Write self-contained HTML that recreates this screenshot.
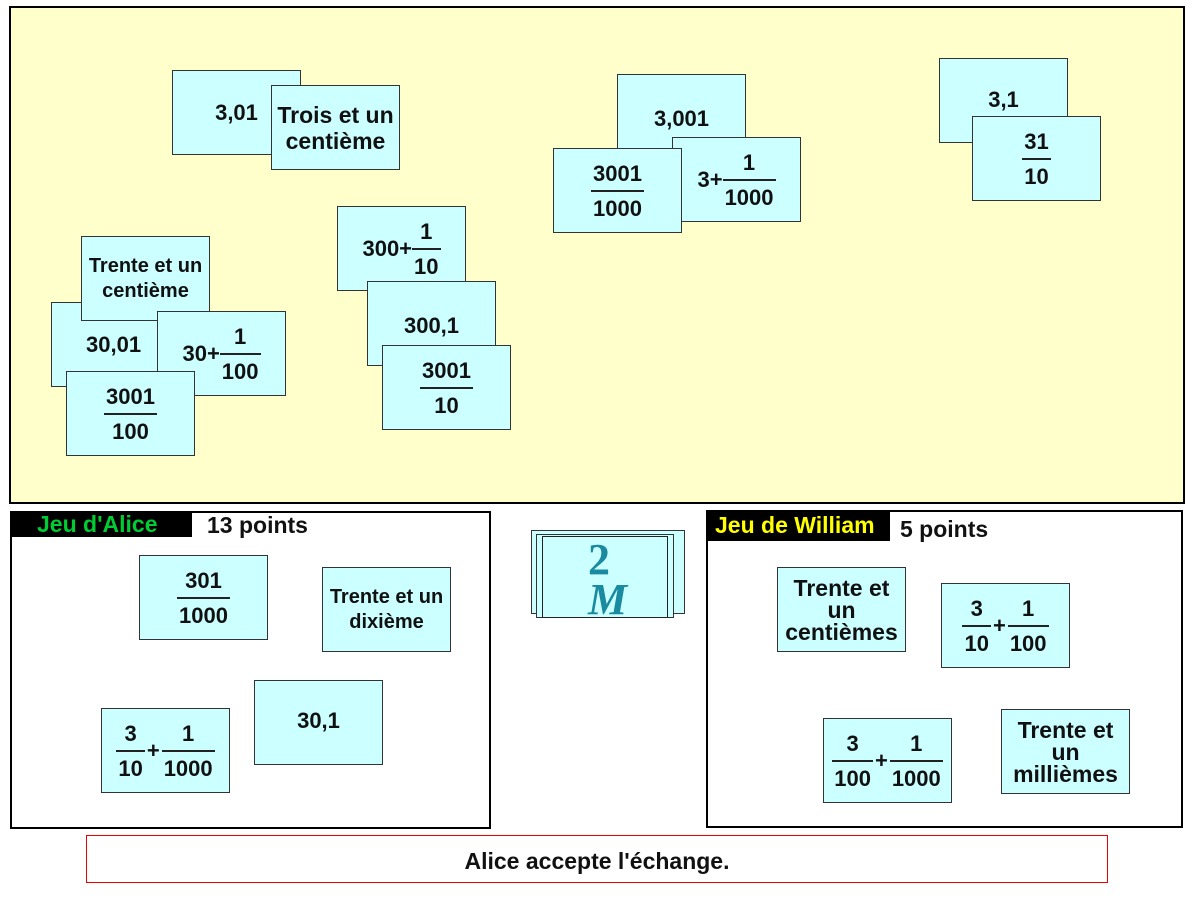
<!DOCTYPE html>
<html><head><meta charset="utf-8"><style>
*{box-sizing:border-box;margin:0;padding:0}
body{width:1200px;height:900px;background:#fff;position:relative;font-family:"Liberation Sans",sans-serif;font-weight:bold;color:#111;overflow:hidden}
.a{position:absolute}
.c{position:absolute;width:129px;height:85px;background:#ccffff;border:1.5px solid #333;display:flex;align-items:center;justify-content:center;font-size:22px;line-height:25px;text-align:center;white-space:nowrap}
.f{display:inline-flex;flex-direction:column;align-items:stretch;vertical-align:middle;line-height:25px;text-align:center}
.f span:first-child{border-bottom:2px solid #222;padding:0 2px 4px}
.f span:last-child{padding:4px 2px 0}
.p{display:inline-block;vertical-align:middle;margin:0 2px}
.s{font-size:20px;line-height:25px}
.w{font-size:23px;line-height:22px}
</style></head><body>
<div class="a" style="left:9px;top:6px;width:1176px;height:498px;background:#ffffcc;border:2px solid #000"></div>

<div class="c" style="left:172px;top:70px;align-items:flex-start;padding-top:29px">3,01</div>
<div class="c" style="left:271px;top:85px;font-size:23px;line-height:26px">Trois et un<br>centième</div>

<div class="c" style="left:617px;top:74px;align-items:flex-start;padding-top:31px">3,001</div>
<div class="c" style="left:672px;top:137px">3+<span class="f"><span>1</span><span>1000</span></span></div>
<div class="c" style="left:553px;top:148px"><span class="f"><span>3001</span><span>1000</span></span></div>

<div class="c" style="left:939px;top:58px;align-items:flex-start;padding-top:28px">3,1</div>
<div class="c" style="left:972px;top:116px"><span class="f"><span>31</span><span>10</span></span></div>

<div class="c" style="left:51px;top:302px;justify-content:flex-start;padding-left:34px">30,01</div>
<div class="c s" style="left:81px;top:236px">Trente et un<br>centième</div>
<div class="c" style="left:157px;top:311px">30+<span class="f"><span>1</span><span>100</span></span></div>
<div class="c" style="left:66px;top:371px"><span class="f"><span>3001</span><span>100</span></span></div>

<div class="c" style="left:337px;top:206px">300+<span class="f"><span>1</span><span>10</span></span></div>
<div class="c" style="left:367px;top:281px;align-items:flex-start;padding-top:31px">300,1</div>
<div class="c" style="left:382px;top:345px"><span class="f"><span>3001</span><span>10</span></span></div>

<!-- Alice -->
<div class="a" style="left:10px;top:511px;width:481px;height:318px;border:2px solid #000"></div>
<div class="a" style="left:10px;top:511px;width:182px;height:26px;background:#000;color:#00cc33;font-size:23px;line-height:26px;padding-left:27px">Jeu d'Alice</div>
<div class="a" style="left:207px;top:512px;font-size:23px;line-height:26px">13 points</div>
<div class="c" style="left:139px;top:555px"><span class="f"><span>301</span><span>1000</span></span></div>
<div class="c s" style="left:322px;top:567px">Trente et un<br>dixième</div>
<div class="c" style="left:101px;top:708px"><span class="f"><span>3</span><span>10</span></span><span class="p">+</span><span class="f"><span>1</span><span>1000</span></span></div>
<div class="c" style="left:254px;top:680px;align-items:flex-start;padding-top:27px">30,1</div>

<!-- deck -->
<div class="a" style="left:531px;top:530px;width:154px;height:84px;background:#ccffff;border:1.5px solid #333"></div>
<div class="a" style="left:536px;top:534px;width:138px;height:84px;background:#ccffff;border:1.5px solid #333"></div>
<div class="a" style="left:542px;top:536px;width:126px;height:82px;background:#ccffff;border:1.5px solid #222"></div>
<div class="a" style="left:588px;top:540px;font-family:'Liberation Serif',serif;font-size:44px;color:#1a8aa0;line-height:40px">2<br><span style="font-style:italic">M</span></div>

<!-- William -->
<div class="a" style="left:706px;top:510px;width:477px;height:318px;border:2px solid #000"></div>
<div class="a" style="left:706px;top:510px;width:184px;height:31px;background:#000;color:#ffff00;font-size:23px;line-height:30px;padding-left:9px">Jeu de William</div>
<div class="a" style="left:900px;top:515px;font-size:23px;line-height:28px">5 points</div>
<div class="c w" style="left:777px;top:567px">Trente et<br>un<br>centièmes</div>
<div class="c" style="left:941px;top:583px"><span class="f"><span>3</span><span>10</span></span><span class="p">+</span><span class="f"><span>1</span><span>100</span></span></div>
<div class="c" style="left:823px;top:718px"><span class="f"><span>3</span><span>100</span></span><span class="p">+</span><span class="f"><span>1</span><span>1000</span></span></div>
<div class="c w" style="left:1001px;top:709px">Trente et<br>un<br>millièmes</div>

<div class="a" style="left:86px;top:835px;width:1022px;height:48px;border:1px solid #e00;font-size:23px;text-align:center;line-height:50px">Alice accepte l'échange.</div>
</body></html>
